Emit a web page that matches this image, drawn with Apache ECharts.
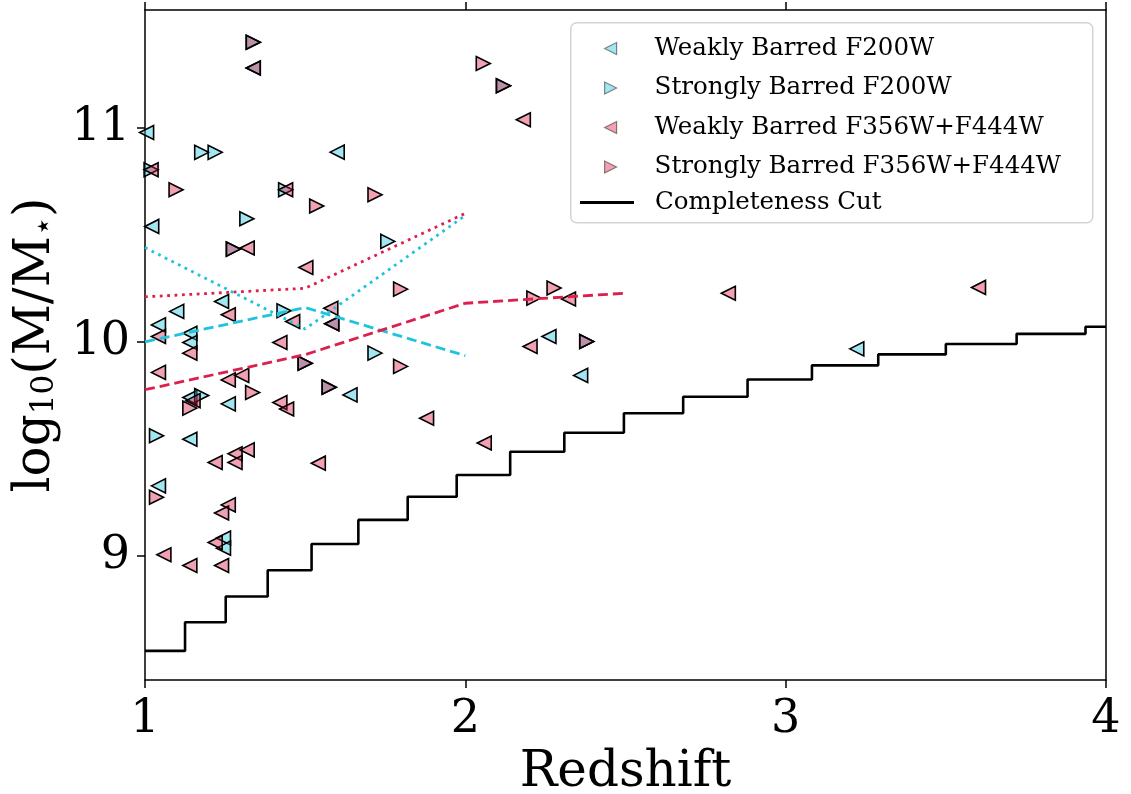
<!DOCTYPE html>
<html>
<head>
<meta charset="utf-8">
<script src="https://cdn.jsdelivr.net/npm/echarts@6/dist/echarts.min.js"></script>
<style>
html,body{margin:0;padding:0;background:#fff;}
#chart{width:1131px;height:794px;}
</style>
</head>
<body>
<div id="chart"></div>
<script>
// ---- data (redshift, log10 M*) ----
const weakF200W = [[1.005,10.978],[1.600,10.886],[1.338,11.279],[1.021,10.539],[1.239,10.188],[1.099,10.142],[1.583,10.084],[1.042,10.079],[1.140,10.040],[1.140,9.997],[1.640,9.752],[1.140,9.740],[1.260,9.710],[1.140,9.545],[1.042,9.327],[1.245,9.083],[1.245,9.036],[2.261,10.025],[2.360,9.843],[3.222,9.967]];
const strongF200W = [[1.177,10.885],[1.219,10.885],[1.019,10.804],[1.439,10.710],[1.318,10.575],[1.338,11.399],[1.276,10.433],[1.434,10.145],[1.500,9.900],[1.575,9.788],[1.177,9.749],[1.036,9.561],[1.758,10.469],[1.718,9.947],[2.119,11.196],[2.379,10.001]];
const weakF356 = [[1.338,11.279],[1.019,10.804],[1.439,10.710],[1.319,10.438],[1.502,10.347],[1.260,10.126],[1.461,10.095],[1.580,10.157],[1.583,10.084],[1.042,10.025],[1.140,9.947],[1.421,9.997],[1.042,9.857],[1.260,9.822],[1.302,9.843],[1.150,9.725],[1.421,9.716],[1.442,9.686],[1.219,9.436],[1.281,9.477],[1.281,9.436],[1.319,9.495],[1.541,9.433],[1.260,9.238],[1.239,9.200],[1.219,9.062],[1.059,9.005],[1.140,8.955],[1.239,8.955],[1.879,9.643],[2.059,9.527],[2.181,11.037],[2.322,10.200],[2.202,9.978],[2.821,10.227],[3.602,10.254]];
const strongF356 = [[1.338,11.399],[1.097,10.710],[1.536,10.634],[1.718,10.687],[2.056,11.300],[2.119,11.196],[1.276,10.433],[1.500,9.900],[1.575,9.788],[1.336,9.763],[1.140,9.690],[1.036,9.274],[1.798,10.246],[1.798,9.885],[2.214,10.204],[2.277,10.251],[2.379,10.001]];

// completeness cut (step edges and levels)
const cutEdges  = [1.000,1.125,1.252,1.383,1.520,1.666,1.820,1.973,2.140,2.309,2.495,2.680,2.881,3.082,3.289,3.500,3.721,3.936,4.000];
const cutLevels = [8.556,8.690,8.810,8.933,9.055,9.168,9.276,9.378,9.486,9.575,9.666,9.743,9.824,9.890,9.941,9.990,10.037,10.070,10.070];

// running medians
const medZ356 = [1.0,1.5,2.0,2.5];
const medWeak356 = [9.776,9.940,10.180,10.227];
const medZ200 = [1.0,1.5,2.0];
const medWeak200 = [10.000,10.160,9.935];
const medStrong200 = [10.440,10.060,10.590];
const medStrong356 = [10.210,10.250,10.600];

const xTicks = [1,2,3,4];
const yTicks = [9,10,11];

const CYAN = '#1fc3dd', RED = '#dc1f4c';
const CYAN_F = 'rgba(30,195,221,0.42)', PINK_F = 'rgba(220,20,60,0.40)';
const FONT = 'DejaVu Serif';
const LEFT_TRI = 'path://M10,0L0,5L10,10Z';
const RIGHT_TRI = 'path://M0,0L10,5L0,10Z';

function zip(xs, ys){ return xs.map((x,i)=>[x, ys[i]]); }

function scatter(name, data, fill, rot){
  return {
    name, type:'scatter', data, symbol:'triangle', symbolSize:14, symbolRotate:rot,
    itemStyle:{color:fill, borderColor:'#000', borderWidth:1.6, opacity:1},
    emphasis:{disabled:true}, z:3
  };
}
function trend(name, data, color, type){
  return {name, type:'line', data, symbol:'none', z:4, silent:true,
    lineStyle:{color, width:2.8, type, cap:'butt'}};
}

const legendText = {fontFamily:FONT, fontSize:24.5, lineHeight:24, color:'#000', padding:[0,0,0,33]};

const chart = echarts.init(document.getElementById('chart'));
chart.setOption({
  animation:false,
  backgroundColor:'#fff',
  grid:{left:145, right:25, top:10, bottom:114, outerBoundsMode:'none', containLabel:false},
  xAxis:[{
    type:'value', min:1, max:4, interval:1,
    name:'Redshift', nameLocation:'middle', nameGap:66,
    nameTextStyle:{fontFamily:FONT, fontSize:50, color:'#000'},
    axisLine:{show:true, lineStyle:{color:'#000', width:1.5}},
    axisTick:{show:true, length:8, inside:false, lineStyle:{color:'#000', width:1.5}},
    axisLabel:{fontFamily:FONT, fontSize:46, color:'#000', margin:17},
    splitLine:{show:false}
  },{
    type:'value', min:1, max:4, interval:1, position:'top',
    axisLine:{show:true, lineStyle:{color:'#000', width:1.5}},
    axisTick:{show:true, length:8, lineStyle:{color:'#000', width:1.5}},
    axisLabel:{show:false}, splitLine:{show:false}
  }],
  yAxis:[{
    type:'value', min:8.42, max:11.55,
    name:'{a|log}{b|10}{a|(M/M}{b|⋆}{a|)}', nameLocation:'middle', nameGap:78, nameRotate:90,
    nameTextStyle:{fontFamily:FONT, color:'#000',
      rich:{a:{fontFamily:FONT, fontSize:50, lineHeight:58, verticalAlign:'bottom', color:'#000'},
            b:{fontFamily:FONT, fontSize:31, lineHeight:20, verticalAlign:'bottom', color:'#000'}}},
    axisLine:{show:true, lineStyle:{color:'#000', width:1.5}},
    axisTick:{show:true, length:8, customValues:yTicks, lineStyle:{color:'#000', width:1.5}},
    axisLabel:{fontFamily:FONT, fontSize:46, color:'#000', margin:15, customValues:yTicks},
    splitLine:{show:false}
  },{
    type:'value', min:8.42, max:11.55, position:'right',
    axisLine:{show:true, lineStyle:{color:'#000', width:1.5}},
    axisTick:{show:false}, axisLabel:{show:false}, splitLine:{show:false}
  }],
  legend:[{
    orient:'vertical', left:604, top:36, padding:0,
    itemWidth:12, itemHeight:12, itemGap:14.5,
    data:[
      {name:'Weakly Barred F200W', icon:LEFT_TRI},
      {name:'Strongly Barred F200W', icon:RIGHT_TRI},
      {name:'Weakly Barred F356W+F444W', icon:LEFT_TRI},
      {name:'Strongly Barred F356W+F444W', icon:RIGHT_TRI}
    ],
    itemStyle:{borderColor:'rgba(0,0,0,0.45)', borderWidth:1.2},
    textStyle:legendText,
    selectedMode:false
  },{
    orient:'vertical', left:580, top:190, padding:0,
    itemWidth:54, itemHeight:3,
    data:[{name:'Completeness Cut', icon:'rect', itemStyle:{color:'#000', borderWidth:0}}],
    textStyle:Object.assign({}, legendText, {padding:[0,0,0,16]}),
    selectedMode:false
  }],
  graphic:[{
    type:'rect', left:570, top:22, z:0, silent:true,
    shape:{width:522, height:200, r:6},
    style:{fill:'rgba(255,255,255,0.85)', stroke:'#d4d4d4', lineWidth:1.5}
  }],
  series:[
    scatter('Weakly Barred F200W', weakF200W, CYAN_F, 90),
    scatter('Strongly Barred F200W', strongF200W, CYAN_F, -90),
    scatter('Weakly Barred F356W+F444W', weakF356, PINK_F, 90),
    scatter('Strongly Barred F356W+F444W', strongF356, PINK_F, -90),
    {name:'Completeness Cut', type:'line', step:'end', symbol:'none', z:4,
     data:zip(cutEdges, cutLevels), lineStyle:{color:'#000', width:2.6}},
    trend('median weak F200W', zip(medZ200, medWeak200), CYAN, [10,5]),
    trend('median strong F200W', zip(medZ200, medStrong200), CYAN, [2.8,4.6]),
    trend('median weak F356W+F444W', zip(medZ356, medWeak356), RED, [10,5]),
    trend('median strong F356W+F444W', zip(medZ200, medStrong356), RED, [2.8,4.6])
  ]
});
</script>
</body>
</html>
